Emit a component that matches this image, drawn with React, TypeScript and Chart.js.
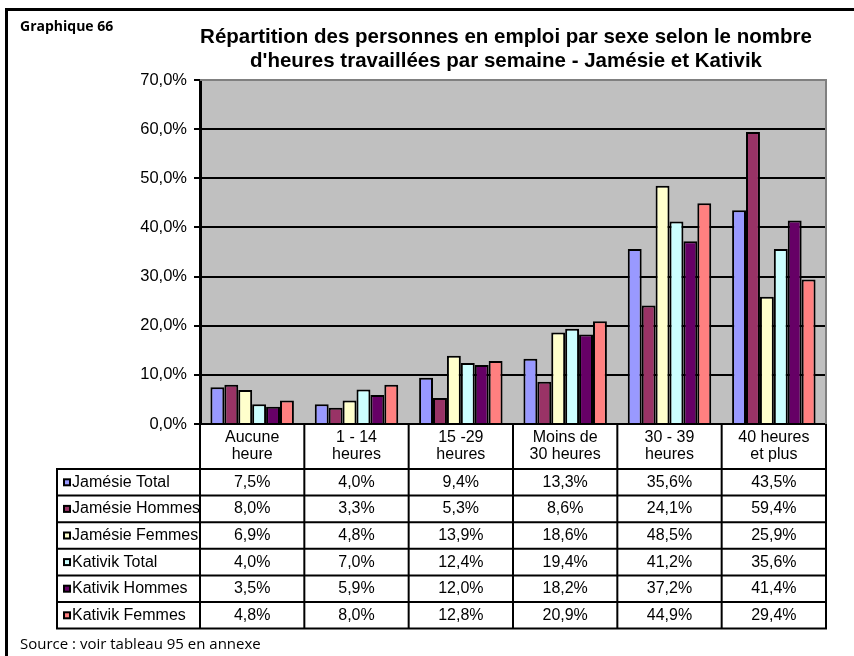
import React, { useEffect, useRef } from "react";
import { Chart, registerables } from "chart.js";

Chart.register(...registerables);

const categoryLines: string[][] = [
  ["Aucune", "heure"],
  ["1 - 14", "heures"],
  ["15 -29", "heures"],
  ["Moins de", "30 heures"],
  ["30 - 39", "heures"],
  ["40 heures", "et plus"],
];
const categories = categoryLines.map((l) => l.join(" "));

const seriesNames = [
  "Jamésie Total",
  "Jamésie Hommes",
  "Jamésie Femmes",
  "Kativik Total",
  "Kativik Hommes",
  "Kativik Femmes",
];
const jamesieTotal = [7.5, 4.0, 9.4, 13.3, 35.6, 43.5];
const jamesieHommes = [8.0, 3.3, 5.3, 8.6, 24.1, 59.4];
const jamesieFemmes = [6.9, 4.8, 13.9, 18.6, 48.5, 25.9];
const kativikTotal = [4.0, 7.0, 12.4, 19.4, 41.2, 35.6];
const kativikHommes = [3.5, 5.9, 12.0, 18.2, 37.2, 41.4];
const kativikFemmes = [4.8, 8.0, 12.8, 20.9, 44.9, 29.4];
const seriesValues = [jamesieTotal, jamesieHommes, jamesieFemmes, kativikTotal, kativikHommes, kativikFemmes];
const seriesColors = ["#9999FF", "#993366", "#FFFFCC", "#CCFFFF", "#660066", "#FF8080"];

const yMin = 0;
const yMax = 70;
const yStep = 10;

const titleLines = [
  "Répartition des personnes en emploi par sexe selon le nombre",
  "d'heures travaillées par semaine - Jamésie et Kativik",
];
const chartLabel = "Graphique 66";
const sourceText = "Source : voir tableau 95 en annexe";

const fmt = (v: number) => v.toFixed(1).replace(".", ",") + "%";

const ARIAL = '"Liberation Sans", Arial, sans-serif';
const CALIBRI = '"Open Sans", "Noto Sans", sans-serif';

const HEADER_H = 45;
const ROW_H = 26.6;
const LEGEND_LEFT = 57;

const decorPlugin = {
  id: "decor",
  beforeDraw(chart: any) {
    const { ctx, chartArea: a } = chart;
    ctx.save();
    ctx.fillStyle = "#ffffff";
    ctx.fillRect(0, 0, chart.width, chart.height);
    ctx.fillStyle = "#C0C0C0";
    ctx.fillRect(a.left, a.top, a.right - a.left, a.bottom - a.top);
    ctx.restore();
  },
  afterDraw(chart: any) {
    const { ctx, chartArea: a } = chart;
    const xs = chart.scales.x;
    ctx.save();

    // outer frame
    ctx.strokeStyle = "#000";
    ctx.lineWidth = 3;
    ctx.beginPath();
    ctx.moveTo(6.5, chart.height + 5);
    ctx.lineTo(6.5, 9.5);
    ctx.lineTo(chart.width + 5, 9.5);
    ctx.stroke();

    // plot border (grey top/right)
    ctx.strokeStyle = "#808080";
    ctx.lineWidth = 2;
    ctx.beginPath();
    ctx.moveTo(a.left, a.top);
    ctx.lineTo(a.right, a.top);
    ctx.lineTo(a.right, a.bottom);
    ctx.stroke();

    // titles
    ctx.fillStyle = "#000";
    ctx.textBaseline = "middle";
    ctx.font = `bold 14px ${CALIBRI}`;
    ctx.textAlign = "left";
    ctx.fillText(chartLabel, 20, 27);
    ctx.font = `bold 20.5px ${ARIAL}`;
    ctx.textAlign = "center";
    ctx.fillText(titleLines[0], 506, 37);
    ctx.fillText(titleLines[1], 506, 61);

    // source
    ctx.font = `15px ${CALIBRI}`;
    ctx.textAlign = "left";
    ctx.fillText(sourceText, 20, 645);

    // data table
    const step = xs.getPixelForValue(1) - xs.getPixelForValue(0);
    const bounds: number[] = [];
    for (let i = 0; i <= categories.length; i++) {
      bounds.push(xs.getPixelForValue(0) - step / 2 + i * step);
    }
    const top = a.bottom;
    const headBottom = top + HEADER_H;
    const tableBottom = headBottom + ROW_H * seriesNames.length;

    ctx.strokeStyle = "#000";
    ctx.lineWidth = 2;
    ctx.beginPath();
    for (let i = 0; i < bounds.length; i++) {
      ctx.moveTo(bounds[i], top);
      ctx.lineTo(bounds[i], tableBottom);
    }
    ctx.moveTo(LEGEND_LEFT, headBottom);
    ctx.lineTo(LEGEND_LEFT, tableBottom);
    for (let r = 0; r <= seriesNames.length; r++) {
      const y = headBottom + r * ROW_H;
      ctx.moveTo(LEGEND_LEFT - 1, y);
      ctx.lineTo(bounds[bounds.length - 1] + 1, y);
    }
    ctx.stroke();

    ctx.font = `16px ${ARIAL}`;
    ctx.textAlign = "center";
    categoryLines.forEach((lines, i) => {
      const cx = (bounds[i] + bounds[i + 1]) / 2;
      ctx.fillText(lines[0], cx, top + 14);
      ctx.fillText(lines[1], cx, top + 31);
    });

    seriesNames.forEach((name, r) => {
      const cy = headBottom + r * ROW_H + ROW_H / 2;
      ctx.fillStyle = "#000";
      ctx.fillRect(63, cy - 4, 8, 8);
      ctx.fillStyle = seriesColors[r];
      ctx.fillRect(65, cy - 2, 4, 4);
      ctx.fillStyle = "#000";
      ctx.textAlign = "left";
      ctx.fillText(name, 72, cy);
      ctx.textAlign = "center";
      seriesValues[r].forEach((v, i) => {
        ctx.fillText(fmt(v), (bounds[i] + bounds[i + 1]) / 2, cy);
      });
    });

    ctx.restore();
  },
};

export default function App() {
  const ref = useRef<HTMLCanvasElement>(null);
  useEffect(() => {
    document.body.style.margin = "0";
    const chart = new Chart(ref.current as HTMLCanvasElement, {
      type: "bar",
      data: {
        labels: categories,
        datasets: seriesNames.map((name, i) => ({
          label: name,
          data: seriesValues[i],
          backgroundColor: seriesColors[i],
          borderColor: "#000",
          borderWidth: 2,
          categoryPercentage: 0.8,
          barPercentage: 1,
        })),
      },
      options: {
        responsive: false,
        animation: false,
        devicePixelRatio: 1,
        layout: { padding: { left: 140, right: 28, top: 80, bottom: 232 } },
        plugins: {
          legend: { display: false },
          title: { display: false },
          tooltip: { enabled: false },
        },
        scales: {
          x: { display: false },
          y: {
            min: yMin,
            max: yMax,
            afterFit: (s: any) => {
              s.width = 60;
            },
            ticks: {
              stepSize: yStep,
              color: "#000",
              padding: 7,
              font: { family: ARIAL, size: 16.5 },
              callback: (v: any) => fmt(Number(v)),
            },
            grid: {
              color: (c: any) => (c.tick && c.tick.value === yMax ? "rgba(0,0,0,0)" : "#000"),
              lineWidth: 2,
              tickColor: "#000",
              tickLength: 6,
              tickWidth: 2,
            },
            border: { display: true, color: "#000", width: 3 },
          },
        },
      },
      plugins: [decorPlugin],
    });
    return () => chart.destroy();
  }, []);
  return (
    <div style={{ position: "absolute", left: 0, top: 0, width: 854, height: 656 }}>
      <canvas ref={ref} width={854} height={656} style={{ display: "block" }} />
    </div>
  );
}
